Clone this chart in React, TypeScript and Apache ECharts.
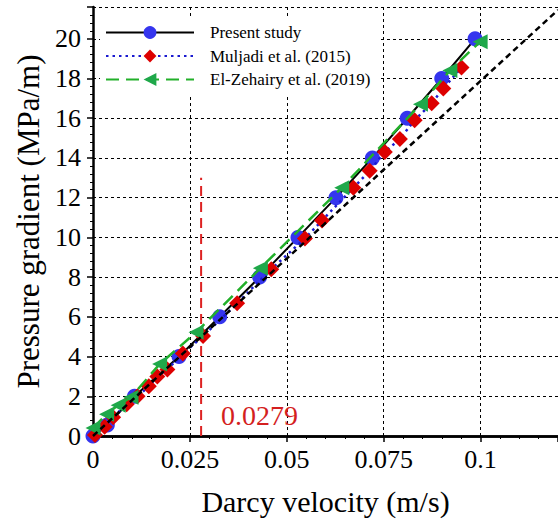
import { useEffect, useRef } from "react";
import * as echarts from "echarts";

const FONT = '"Liberation Serif", "Times New Roman", Times, serif';

// x: Darcy velocity (m/s), y: pressure gradient (MPa/m)
const presentX = [0, 0.0037, 0.0107, 0.0222, 0.0327, 0.043, 0.0529, 0.0627, 0.0721, 0.0811, 0.09, 0.0986];
const presentY = [0, 0.55, 2.0, 4.0, 6.0, 8.0, 10.0, 12.0, 14.0, 16.0, 18.0, 20.0];

const muljadiX = [0.0005, 0.003, 0.0052, 0.0087, 0.0115, 0.0144, 0.0166, 0.0192, 0.0232, 0.0284, 0.0372, 0.046, 0.0547, 0.0591, 0.0672, 0.0714, 0.0753, 0.0792, 0.083, 0.0874, 0.0904, 0.0951];
const muljadiY = [0.05, 0.47, 0.95, 1.6, 2.0, 2.5, 3.0, 3.35, 4.15, 5.03, 6.68, 8.4, 9.95, 10.85, 12.5, 13.35, 14.3, 14.96, 15.9, 16.75, 17.5, 18.56];

const zehairyX = [0, 0.0035, 0.0065, 0.0098, 0.0172, 0.0266, 0.0432, 0.0642, 0.0845, 0.0921, 0.0999];
const zehairyY = [0.4, 1.1, 1.55, 1.95, 3.62, 5.22, 8.45, 12.5, 16.7, 18.4, 19.85];

const refX = [0, 0.12];
const refY = [0, 21.45];

const criticalVelocity = 0.0279;
const critX = [criticalVelocity, criticalVelocity];
const critY = [0, 13];

const seriesNames = ["Present study", "Muljadi et al. (2015)", "El-Zehairy et al. (2019)"];

const zip = (xs: number[], ys: number[]) => xs.map((x, i) => [x, ys[i]]);

export default function App() {
  const ref = useRef<HTMLDivElement>(null);
  useEffect(() => {
    const chart = echarts.init(ref.current!, null, { renderer: "svg" });
    const axisCommon = {
      axisLine: { show: true, onZero: false, lineStyle: { color: "#000", width: 2.5 } },
      axisTick: { show: true, length: 6, lineStyle: { color: "#000", width: 1.5 } },
      minorTick: { show: true, splitNumber: 5, length: 3, lineStyle: { color: "#000", width: 1 } },
      splitLine: { show: true, lineStyle: { color: "#000", width: 1, type: [3, 3] } },
      axisLabel: { color: "#000", fontFamily: FONT, fontSize: 26 },
      nameTextStyle: { color: "#000", fontFamily: FONT, fontSize: 31 },
    };
    chart.setOption({
      animation: false,
      backgroundColor: "#fff",
      textStyle: { fontFamily: FONT },
      grid: { left: 93, right: 0, top: 7, bottom: 83, containLabel: false, outerBoundsMode: "none" },
      legend: {
        data: seriesNames,
        orient: "vertical",
        left: 100,
        top: 16,
        padding: [8, 10, 8, 5],
        backgroundColor: "#fff",
        itemWidth: 88,
        itemHeight: 16,
        itemGap: 6.5,
        textStyle: { color: "#000", fontFamily: FONT, fontSize: 17, padding: [0, 0, 0, 11] },
      },
      xAxis: [
        {
          ...axisCommon,
          type: "value",
          min: 0,
          max: 0.12,
          interval: 0.025,
          name: "Darcy velocity (m/s)",
          nameLocation: "middle",
          nameGap: 50,
          nameTextStyle: { ...axisCommon.nameTextStyle, fontSize: 30, lineHeight: 30 },
          axisLabel: {
            ...axisCommon.axisLabel,
            margin: 10,
            formatter: (v: number) => (v > 0.11 ? "" : String(+v.toFixed(3))),
          },
        },
        {
          type: "value",
          position: "top",
          min: 0,
          max: 0.12,
          axisLine: { show: true, lineStyle: { color: "#000", width: 2.5 } },
          axisTick: { show: false },
          axisLabel: { show: false },
          splitLine: { show: false },
        },
      ],
      yAxis: {
        ...axisCommon,
        type: "value",
        min: 0,
        max: 21.6,
        interval: 2,
        name: "Pressure gradient (MPa/m)",
        nameLocation: "middle",
        nameGap: 46,
        axisLabel: {
          ...axisCommon.axisLabel,
          margin: 12,
          formatter: (v: number) => (v > 21 ? "" : String(Math.round(v))),
        },
      },
      series: [
        {
          name: "Present study",
          type: "line",
          data: zip(presentX, presentY),
          symbol: "circle",
          symbolSize: 15,
          itemStyle: { color: "#3535ee" },
          lineStyle: { color: "#000", width: 2, type: "solid" },
          z: 3,
        },
        {
          name: "Muljadi et al. (2015)",
          type: "line",
          data: zip(muljadiX, muljadiY),
          symbol: "diamond",
          symbolSize: 16,
          itemStyle: { color: "#dd0000" },
          lineStyle: { color: "#1a1ad0", width: 2.5, type: [2.5, 4] },
          z: 4,
        },
        {
          name: "El-Zehairy et al. (2019)",
          type: "line",
          data: zip(zehairyX, zehairyY),
          symbol: "triangle",
          symbolRotate: 90,
          symbolSize: 15,
          itemStyle: { color: "#1fa84a" },
          lineStyle: { color: "#22b02a", width: 2.5, type: [13, 7] },
          z: 5,
        },
        {
          name: "reference",
          type: "line",
          data: zip(refX, refY),
          symbol: "none",
          lineStyle: { color: "#000", width: 2.5, type: [6, 4] },
          z: 6,
          silent: true,
        },
        {
          name: "critical",
          type: "line",
          data: zip(critX, critY),
          symbol: "none",
          lineStyle: { color: "#dd2222", width: 2, type: [10, 6] },
          z: 2,
          silent: true,
        },
      ],
      graphic: [
        {
          type: "text",
          left: 221,
          top: 401,
          style: { text: String(criticalVelocity), fill: "#d41f1f", font: `28px ${FONT}` },
          z: 10,
        },
      ],
    });
    return () => chart.dispose();
  }, []);
  return <div ref={ref} style={{ position: "absolute", left: 0, top: 0, width: 558, height: 519 }} />;
}
